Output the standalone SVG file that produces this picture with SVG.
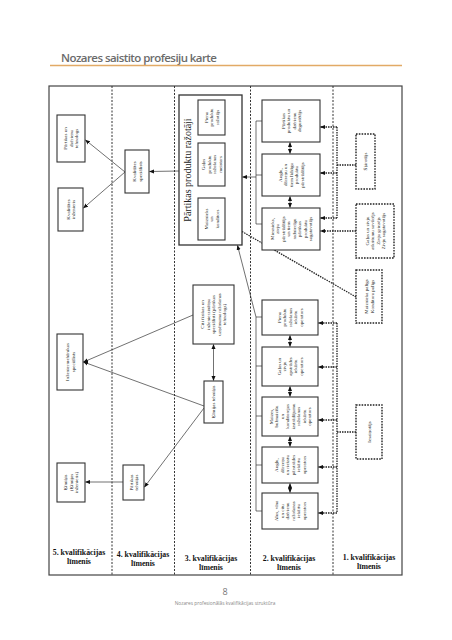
<svg xmlns="http://www.w3.org/2000/svg" width="452" height="640" viewBox="0 0 452 640">
<style>
.bg{fill:#fff}
.frame{fill:none;stroke:#444;stroke-width:1.2}
.div{stroke:#333;stroke-width:1;stroke-dasharray:2 1.5;fill:none}
.box{fill:#fff;stroke:#333;stroke-width:1.1}
.dbox{fill:#fff;stroke:#222;stroke-width:1.4;stroke-dasharray:1.6 1.2}
.big{fill:#fff;stroke:#333;stroke-width:1.3}
.t{font-family:"Liberation Serif","Times New Roman",serif;font-size:5px;fill:#222;text-anchor:middle}
.tt{font-family:"Liberation Serif","Times New Roman",serif;font-size:10px;fill:#222;text-anchor:middle}
.lv{font-family:"Liberation Serif","Times New Roman",serif;font-size:7.8px;font-weight:bold;fill:#111;text-anchor:middle}
.ln{stroke:#333;stroke-width:0.7;fill:none}
.dl{stroke:#222;stroke-width:1.3;stroke-dasharray:1.5 1;fill:none}
</style>
<defs>
<marker id="ah" viewBox="0 0 10 10" refX="9" refY="5" markerWidth="5" markerHeight="5" markerUnits="userSpaceOnUse" orient="auto-start-reverse"><path d="M0,1 L10,5 L0,9 z" fill="#111"/></marker>
</defs>
<rect class="bg" x="0" y="0" width="452" height="640"/>
<g id="header">
<text x="61" y="62" font-family="'Open Sans','Noto Sans',sans-serif" font-size="11.5" font-weight="600" fill="#6b6b6b" textLength="156">Nozares saistito profesiju karte</text>
<line x1="50" y1="65.5" x2="402" y2="65.5" stroke="#e2aa66" stroke-width="1.6"/>
</g>
<g id="frame">
<rect class="frame" x="49" y="86" width="353" height="489"/>
<line class="div" x1="112" y1="86" x2="112" y2="575"/>
<line class="div" x1="174.5" y1="86" x2="174.5" y2="575"/>
<line class="div" x1="250.5" y1="86" x2="250.5" y2="575"/>
<line class="div" x1="333" y1="86" x2="333" y2="575"/>
</g>
<g id="levels">
<text class="lv" x="79" y="555">5. kvalifikācijas<tspan x="79" dy="9">līmenis</tspan></text>
<text class="lv" x="143" y="557">4. kvalifikācijas<tspan x="143" dy="9">līmenis</tspan></text>
<text class="lv" x="211" y="561">3. kvalifikācijas<tspan x="211" dy="9">līmenis</tspan></text>
<text class="lv" x="289" y="561">2. kvalifikācijas<tspan x="289" dy="9">līmenis</tspan></text>
<text class="lv" x="369" y="560">1. kvalifikācijas<tspan x="369" dy="9">līmenis</tspan></text>
</g>
<g id="connectors">
<line class="ln" x1="125" y1="172" x2="85.5" y2="140" marker-end="url(#ah)"/>
<line class="ln" x1="125" y1="172" x2="83.5" y2="208" marker-end="url(#ah)"/>
<line class="ln" x1="179" y1="171" x2="149.5" y2="171.5" marker-end="url(#ah)"/>
<line class="ln" x1="193" y1="315" x2="83.5" y2="362" marker-end="url(#ah)"/>
<line class="ln" x1="204" y1="406" x2="83.5" y2="362" marker-end="url(#ah)"/>
<line class="ln" x1="204" y1="408" x2="144.5" y2="487" marker-end="url(#ah)"/>
<line class="ln" x1="123" y1="482" x2="85.5" y2="482" marker-end="url(#ah)"/>
<line class="ln" x1="213.5" y1="344.5" x2="213.5" y2="380.5" marker-start="url(#ah)" marker-end="url(#ah)"/>
<line class="ln" x1="211.5" y1="135.5" x2="211.5" y2="142.5" marker-start="url(#ah)" marker-end="url(#ah)"/>
<line class="ln" x1="211.5" y1="186.5" x2="211.5" y2="197.5" marker-start="url(#ah)" marker-end="url(#ah)"/>
<path class="ln" d="M262,121 H256 V224 H262 M256,175 H262"/>
<line class="ln" x1="256" y1="177" x2="242.5" y2="177" marker-end="url(#ah)"/>
<line class="ln" x1="290" y1="142.5" x2="290" y2="153.5" marker-start="url(#ah)" marker-end="url(#ah)"/>
<line class="ln" x1="290" y1="196.5" x2="290" y2="207.5" marker-start="url(#ah)" marker-end="url(#ah)"/>
<path class="ln" d="M262,317 H256 V511 H262 M256,366 H262 M256,416 H262 M256,465 H262"/>
<line class="ln" x1="256" y1="317" x2="237.5" y2="245.5" marker-end="url(#ah)"/>
<line class="ln" x1="290" y1="335.5" x2="290" y2="346.5" marker-start="url(#ah)" marker-end="url(#ah)"/>
<line class="ln" x1="290" y1="386.5" x2="290" y2="396.5" marker-start="url(#ah)" marker-end="url(#ah)"/>
<line class="ln" x1="290" y1="436.5" x2="290" y2="446.5" marker-start="url(#ah)" marker-end="url(#ah)"/>
<line class="ln" x1="290" y1="483.5" x2="290" y2="492.5" marker-start="url(#ah)" marker-end="url(#ah)"/>
<line class="dl" x1="337" y1="127" x2="337" y2="218"/>
<line class="dl" x1="337" y1="127" x2="320.5" y2="127" marker-end="url(#ah)"/>
<line class="dl" x1="337" y1="173" x2="320.5" y2="173" marker-end="url(#ah)"/>
<line class="dl" x1="337" y1="218" x2="320.5" y2="218" marker-end="url(#ah)"/>
<line class="dl" x1="337" y1="165" x2="356" y2="165"/>
<line class="dl" x1="356" y1="231" x2="320.5" y2="231" marker-end="url(#ah)"/>
<line class="dl" x1="337" y1="323" x2="337" y2="513"/>
<line class="dl" x1="337" y1="323" x2="318.5" y2="323" marker-end="url(#ah)"/>
<line class="dl" x1="337" y1="367" x2="318.5" y2="367" marker-end="url(#ah)"/>
<line class="dl" x1="337" y1="420" x2="318.5" y2="420" marker-end="url(#ah)"/>
<line class="dl" x1="337" y1="467" x2="318.5" y2="467" marker-end="url(#ah)"/>
<line class="dl" x1="337" y1="513" x2="318.5" y2="513" marker-end="url(#ah)"/>
<line class="dl" x1="337" y1="432" x2="356" y2="432"/>
<line class="dl" x1="356" y1="297" x2="225.5" y2="222" marker-end="url(#ah)"/>
</g>
<g id="n-tehnologs"><rect class="box" x="57" y="115" width="28" height="47"/>
<text class="t" transform="translate(71,138.5) rotate(-90)" y="-3.7">Pārtikas un<tspan x="0" dy="5.5">dzērienu</tspan><tspan x="0" dy="5.5">tehnologs</tspan></text></g>
<g id="n-kval-inz"><rect class="box" x="58" y="188" width="25" height="43"/>
<text class="t" transform="translate(70.5,209.5) rotate(-90)" y="-0.95">Kvalitātes<tspan x="0" dy="5.5">inženieris</tspan></text></g>
<g id="n-mehan"><rect class="box" x="57" y="334" width="26" height="56"/>
<text class="t" transform="translate(70,362) rotate(-90)" y="-0.95">Inženiermehānikas<tspan x="0" dy="5.5">speciālists</tspan></text></g>
<g id="n-kimikis"><rect class="box" x="57" y="463" width="28" height="39"/>
<text class="t" transform="translate(71,482.5) rotate(-90)" y="-3.7">Ķīmiķis<tspan x="0" dy="5.5">(Ķīmijas</tspan><tspan x="0" dy="5.5">inženieris)</tspan></text></g>
<g id="n-kval-spec"><rect class="box" x="125" y="150" width="24" height="43"/>
<text class="t" transform="translate(137,171.5) rotate(-90)" y="-0.95">Kvalitātes<tspan x="0" dy="5.5">speciālists</tspan></text></g>
<g id="n-tehnikis"><rect class="box" x="123" y="465" width="21" height="35"/>
<text class="t" transform="translate(133.5,482.5) rotate(-90)" y="-0.95">Pārtikas<tspan x="0" dy="5.5">tehniķis</tspan></text></g>
<g id="n-razotaji"><rect class="big" x="179" y="95" width="63" height="150"/>
<text class="tt" transform="translate(187.5,170) rotate(-90)" y="3.5">Pārtikas produktu ražotāji</text></g>
<g id="n-piena-raz"><rect class="box" x="198" y="100" width="27" height="35"/>
<text class="t" transform="translate(211.5,117.5) rotate(-90)" y="-3.7">Piena<tspan x="0" dy="5.5">produktu</tspan><tspan x="0" dy="5.5">ražotājs</tspan></text></g>
<g id="n-galas-meist"><rect class="box" x="198" y="143" width="27" height="43"/>
<text class="t" transform="translate(211.5,164.5) rotate(-90)" y="-6.45">Gaļas<tspan x="0" dy="5.5">produktu</tspan><tspan x="0" dy="5.5">ražošanas</tspan><tspan x="0" dy="5.5">meistars</tspan></text></g>
<g id="n-maiznieks"><rect class="box" x="198" y="198" width="27" height="42"/>
<text class="t" transform="translate(211.5,219) rotate(-90)" y="-3.7">Maiznieks<tspan x="0" dy="5.5">un</tspan><tspan x="0" dy="5.5">konditors</tspan></text></g>
<g id="n-citi"><rect class="box" x="193" y="285" width="41" height="59"/>
<text class="t" transform="translate(213.5,314.5) rotate(-90)" y="-9.2">Citi fizikas un<tspan x="0" dy="5.5">inženierzinātņu</tspan><tspan x="0" dy="5.5">speciālisti (pārtikas</tspan><tspan x="0" dy="5.5">uzņēmuma ražošanas</tspan><tspan x="0" dy="5.5">tehnologs)</tspan></text></g>
<g id="n-kim-tehn"><rect class="box" x="204" y="381" width="19" height="42"/>
<text class="t" transform="translate(213.5,402) rotate(-90)" y="1.8">Ķīmijas tehniķis</text></g>
<g id="n-degust"><rect class="box" x="262" y="100" width="58" height="42"/>
<text class="t" transform="translate(291,121) rotate(-90)" y="-6.45">Pārtikas<tspan x="0" dy="5.5">produktu un</tspan><tspan x="0" dy="5.5">dzērienu</tspan><tspan x="0" dy="5.5">degustētājs</tspan></text></g>
<g id="n-auglu-parstr"><rect class="box" x="262" y="154" width="58" height="42"/>
<text class="t" transform="translate(291,175) rotate(-90)" y="-9.2">Augļu,<tspan x="0" dy="5.5">dārzeņu un</tspan><tspan x="0" dy="5.5">tiem līdzīgu</tspan><tspan x="0" dy="5.5">produktu</tspan><tspan x="0" dy="5.5">pārstrādātājs</tspan></text></g>
<g id="n-miesnieks"><rect class="box" x="262" y="208" width="58" height="42"/>
<text class="t" transform="translate(291,229) rotate(-90)" y="-17.45">Miesnieks,<tspan x="0" dy="5.5">zivju</tspan><tspan x="0" dy="5.5">pārstrādātājs</tspan><tspan x="0" dy="5.5">un tiem</tspan><tspan x="0" dy="5.5">radniecīgu</tspan><tspan x="0" dy="5.5">pārtikas</tspan><tspan x="0" dy="5.5">produktu</tspan><tspan x="0" dy="5.5">sagatavotājs</tspan></text></g>
<g id="n-piena-op"><rect class="box" x="262" y="300" width="56" height="35"/>
<text class="t" transform="translate(290,317.5) rotate(-90)" y="-9.2">Piena<tspan x="0" dy="5.5">produktu</tspan><tspan x="0" dy="5.5">ražošanas</tspan><tspan x="0" dy="5.5">iekārtu</tspan><tspan x="0" dy="5.5">operators</tspan></text></g>
<g id="n-galas-op"><rect class="box" x="262" y="347" width="56" height="39"/>
<text class="t" transform="translate(290,366.5) rotate(-90)" y="-9.2">Gaļas un<tspan x="0" dy="5.5">zivju</tspan><tspan x="0" dy="5.5">apstrādes</tspan><tspan x="0" dy="5.5">iekārtu</tspan><tspan x="0" dy="5.5">operators</tspan></text></g>
<g id="n-maizes-op"><rect class="box" x="262" y="397" width="56" height="39"/>
<text class="t" transform="translate(290,416.5) rotate(-90)" y="-17.45">Maizes,<tspan x="0" dy="5.5">bulmaizīšu</tspan><tspan x="0" dy="5.5">un</tspan><tspan x="0" dy="5.5">konditorejas</tspan><tspan x="0" dy="5.5">izstrādājumu</tspan><tspan x="0" dy="5.5">ražošanas</tspan><tspan x="0" dy="5.5">iekārtu</tspan><tspan x="0" dy="5.5">operators</tspan></text></g>
<g id="n-auglu-op"><rect class="box" x="262" y="447" width="56" height="36"/>
<text class="t" transform="translate(290,465) rotate(-90)" y="-11.95">Augļu,<tspan x="0" dy="5.5">dārzeņu</tspan><tspan x="0" dy="5.5">un riekstu</tspan><tspan x="0" dy="5.5">pārstrādes</tspan><tspan x="0" dy="5.5">iekārtu</tspan><tspan x="0" dy="5.5">operators</tspan></text></g>
<g id="n-alus-op"><rect class="box" x="262" y="493" width="56" height="36"/>
<text class="t" transform="translate(290,511) rotate(-90)" y="-11.95">Alus, vīna<tspan x="0" dy="5.5">un citu</tspan><tspan x="0" dy="5.5">dzērienu</tspan><tspan x="0" dy="5.5">ražošanas</tspan><tspan x="0" dy="5.5">iekārtu</tspan><tspan x="0" dy="5.5">operators</tspan></text></g>
<g id="n-skirotajs"><rect class="dbox" x="356" y="134" width="19" height="55"/>
<text class="t" transform="translate(365.5,161.5) rotate(-90)" y="1.8">Šķirotājs</text></g>
<g id="n-atkritumu"><rect class="dbox" x="356" y="204" width="38" height="54"/>
<text class="t" transform="translate(375,231) rotate(-90)" y="-6.45">Gaļas un zivju<tspan x="0" dy="5.5">atkritumu savācējs</tspan><tspan x="0" dy="5.5">Zivju griezējs</tspan><tspan x="0" dy="5.5">Zivju sagatavotājs</tspan></text></g>
<g id="n-paligs"><rect class="dbox" x="356" y="270" width="26" height="53"/>
<text class="t" transform="translate(369,296.5) rotate(-90)" y="-0.95">Maiznieka palīgs<tspan x="0" dy="5.5">Konditora palīgs</tspan></text></g>
<g id="n-iesainotajs"><rect class="dbox" x="356" y="405" width="26" height="54"/>
<text class="t" transform="translate(369,432) rotate(-90)" y="1.8">Iesaiņotājs</text></g>
<g id="footer">
<text x="225" y="595" font-family="'Open Sans','Noto Sans',sans-serif" font-size="9" fill="#777" text-anchor="middle">8</text>
<text x="225" y="605" font-family="'Open Sans','Noto Sans',sans-serif" font-size="4.8" fill="#888" text-anchor="middle">Nozares profesionālās kvalifikācijas struktūra</text>
</g>
</svg>
